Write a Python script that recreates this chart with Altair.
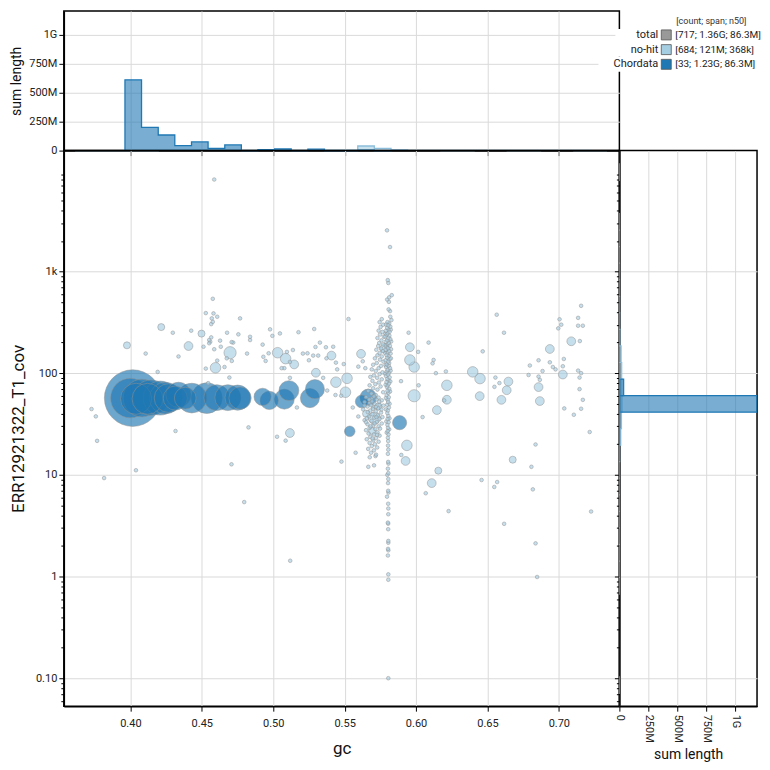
import altair as alt
import pandas as pd

FONT = "Roboto"
NOHIT_COLOR = "#a6cee3"
CHORDATA_COLOR = "#1f78b4"
TOTAL_COLOR = "#999999"

# ---------------------------------------------------------------------------
# Contig records: (gc, coverage, length)
# ---------------------------------------------------------------------------
CHORDATA = [
    (0.4016, 56.9, 460e6), (0.4000, 56.9, 110e6), (0.4040, 56.0, 42e6),
    (0.4081, 56.9, 90e6), (0.4144, 57.5, 70e6), (0.4120, 56.0, 41e6),
    (0.4209, 56.9, 60e6), (0.4244, 56.9, 45e6), (0.4267, 56.9, 30e6),
    (0.4314, 56.9, 15e6), (0.4337, 61.3, 18e6), (0.4384, 56.9, 10e6),
    (0.4430, 56.9, 35e6), (0.4535, 56.9, 40e6), (0.4605, 57.5, 20e6),
    (0.4682, 57.5, 20e6), (0.4751, 57.5, 18e6), (0.4768, 56.9, 11e6),
    (0.4926, 58.5, 4e6), (0.4973, 54.0, 5e6), (0.5078, 55.5, 7e6),
    (0.5110, 67.4, 7e6), (0.5257, 56.9, 6e6), (0.5292, 69.7, 6e6),
    (0.5536, 26.8, 0.56e6), (0.5620, 52.7, 1.2e6), (0.5666, 57.7, 3.5e6),
    (0.5885, 32.6, 1.8e6),
]

NOHIT_LOW = [
    (0.3728, 44.4, 8e3), (0.3758, 37.6, 8e3), (0.3767, 21.6, 8e3), (0.3816, 9.3, 8e3),
    (0.4039, 11.1, 8e3), (0.4316, 27.0, 8e3), (0.4827, 29.3, 8e3), (0.4708, 12.7, 8e3),
    (0.4797, 5.4, 8e3), (0.5027, 23.7, 8e3), (0.5087, 21.7, 8e3), (0.5117, 25.8, 270e3),
    (0.5119, 1.43, 8e3), (0.5166, 46.0, 8e3), (0.5478, 13.5, 8e3), (0.5577, 16.5, 8e3),
    (0.5666, 12.0, 8e3), (0.5706, 12.4, 8e3), (0.5676, 14.9, 8e3), (0.5716, 15.3, 8e3),
    (0.5936, 19.5, 560e3), (0.5927, 13.7, 270e3), (0.5897, 15.7, 8e3), (0.6156, 11.0, 110e3),
    (0.6110, 8.3, 270e3), (0.6068, 6.6, 8e3), (0.6228, 4.4, 8e3), (0.6459, 8.9, 8e3),
    (0.6548, 7.6, 8e3), (0.6568, 8.5, 8e3), (0.6617, 3.3, 8e3), (0.6677, 14.1, 110e3),
    (0.6808, 12.0, 8e3), (0.6818, 7.2, 8e3), (0.6837, 19.9, 8e3), (0.6837, 2.12, 8e3),
    (0.6848, 0.99, 8e3), (0.7216, 26.4, 8e3), (0.7226, 4.36, 8e3), (0.7105, 39.0, 8e3),
    (0.7038, 45.0, 8e3), (0.7156, 44.7, 8e3), (0.6146, 43.4, 270e3), (0.6046, 37.0, 8e3),
    (0.5557, 46.0, 8e3), (0.5596, 37.5, 8e3), (0.5708, 36.2, 1e6),
]

NOHIT_UPPER_LEFT = [
    (0.4587, 8030, 8e3), (0.4577, 539, 8e3), (0.4528, 390, 8e3), (0.4582, 387, 8e3),
    (0.4608, 359, 8e3), (0.4570, 346, 8e3), (0.4577, 320, 8e3), (0.4566, 304, 8e3),
    (0.4768, 346, 8e3), (0.4216, 284, 110e3), (0.4297, 250, 8e3), (0.4426, 262, 8e3),
    (0.4498, 245, 110e3), (0.4566, 225, 8e3), (0.4552, 212, 8e3), (0.4628, 209, 8e3),
    (0.4677, 250, 8e3), (0.4756, 241, 8e3), (0.4838, 228, 8e3), (0.4838, 212, 8e3),
    (0.3976, 188, 110e3), (0.4407, 185, 270e3), (0.4512, 182, 8e3), (0.4552, 197, 8e3),
    (0.4559, 204, 8e3), (0.4587, 172, 8e3), (0.4633, 182, 8e3), (0.4709, 202, 8e3),
    (0.4720, 200, 8e3), (0.4698, 159, 1e6), (0.4107, 156, 8e3), (0.4817, 156, 8e3),
    (0.4926, 191, 8e3), (0.4978, 270, 8e3), (0.4994, 233, 8e3), (0.5047, 246, 8e3),
    (0.5177, 253, 8e3), (0.5287, 272, 8e3), (0.4608, 133, 8e3), (0.4675, 140, 8e3),
    (0.4710, 132, 8e3), (0.4596, 113, 560e3), (0.4528, 111, 8e3), (0.4659, 115, 8e3),
    (0.4693, 90.6, 8e3), (0.4545, 79.8, 8e3), (0.5031, 159, 560e3), (0.4968, 157, 8e3),
    (0.4931, 145, 8e3), (0.4947, 132, 8e3), (0.5087, 139, 560e3), (0.5096, 162, 8e3),
    (0.5138, 169, 8e3), (0.5117, 129, 8e3), (0.5147, 122, 270e3), (0.5059, 112, 8e3),
    (0.5078, 112, 8e3), (0.5117, 90.0, 8e3), (0.5208, 156, 8e3), (0.5240, 157, 8e3),
    (0.5280, 149, 8e3), (0.5296, 181, 8e3), (0.5327, 200, 8e3), (0.5369, 180, 8e3),
    (0.5315, 149, 8e3), (0.5250, 134, 8e3), (0.5373, 140, 8e3), (0.5408, 149, 270e3),
    (0.5420, 182, 8e3), (0.5439, 127, 8e3), (0.5448, 109, 8e3), (0.5299, 101, 270e3),
    (0.5350, 90.0, 8e3), (0.5439, 81.6, 560e3), (0.5378, 67.5, 8e3), (0.5436, 61.0, 8e3),
    (0.5476, 60.0, 8e3), (0.4337, 146, 8e3), (0.4191, 103, 8e3), (0.5527, 341, 8e3),
    (0.5615, 155, 270e3), (0.5627, 131, 8e3), (0.5596, 116, 8e3), (0.5645, 112, 8e3),
    (0.5494, 123, 8e3), (0.5517, 89.0, 560e3), (0.5506, 65.0, 560e3), (0.5778, 176, 270e3),
]

NOHIT_UPPER_RIGHT = [
    (0.5948, 250, 8e3), (0.6088, 200, 8e3), (0.5957, 180, 270e3), (0.6015, 162, 8e3),
    (0.5957, 135, 560e3), (0.5987, 115, 560e3), (0.6123, 135, 8e3), (0.6116, 125, 8e3),
    (0.6139, 100, 8e3), (0.6209, 104, 8e3), (0.6397, 103, 560e3), (0.6448, 88.5, 560e3),
    (0.6216, 76.0, 560e3), (0.6018, 76.0, 8e3), (0.5987, 60.0, 1e6), (0.5895, 83.5, 8e3),
    (0.6197, 54.0, 8e3), (0.6216, 54.8, 270e3), (0.6446, 59.5, 270e3), (0.6467, 164, 8e3),
    (0.6565, 376, 8e3), (0.6616, 250, 8e3), (0.6556, 90.6, 8e3), (0.6549, 73.4, 8e3),
    (0.6584, 80.0, 8e3), (0.6647, 82.7, 270e3), (0.6635, 68.0, 270e3), (0.6598, 54.7, 270e3),
    (0.6788, 96.0, 8e3), (0.6797, 119, 8e3), (0.6858, 134, 8e3), (0.6886, 105, 8e3),
    (0.6858, 92.6, 8e3), (0.6867, 86.0, 8e3), (0.6858, 73.0, 270e3), (0.6867, 53.2, 270e3),
    (0.6937, 173, 270e3), (0.6937, 128, 8e3), (0.6958, 115, 8e3), (0.6977, 109, 8e3),
    (0.7028, 117, 8e3), (0.7035, 138, 8e3), (0.7028, 97.0, 270e3), (0.7005, 339, 8e3),
    (0.7017, 300, 8e3), (0.6996, 276, 8e3), (0.7087, 206, 270e3), (0.7156, 460, 8e3),
    (0.7135, 350, 8e3), (0.7135, 293, 8e3), (0.7168, 293, 8e3), (0.7147, 207, 8e3),
    (0.7135, 106, 8e3), (0.7156, 100, 8e3), (0.7145, 90.6, 8e3), (0.7145, 69.7, 8e3),
    (0.7168, 54.7, 8e3),
]

# the narrow high-coverage column near gc 0.58
NOHIT_COLUMN = [
    (0.5797, 2540, 8e3), (0.5818, 1740, 8e3), (0.5802, 823, 8e3), (0.5806, 772, 8e3),
    (0.5830, 585, 8e3), (0.5812, 557, 8e3), (0.5798, 530, 8e3), (0.5810, 503, 8e3),
    (0.5808, 424, 8e3), (0.5818, 408, 8e3), (0.5820, 359, 8e3), (0.5828, 333, 8e3),
    (0.5800, 318, 8e3), (0.5812, 309, 8e3), (0.5792, 301, 12e3), (0.5806, 296, 8e3),
    (0.5820, 287, 8e3), (0.5798, 279, 8e3), (0.5808, 268, 12e3), (0.5790, 262, 8e3),
    (0.5815, 255, 8e3), (0.5802, 247, 8e3), (0.5795, 240, 8e3), (0.5812, 234, 12e3),
    (0.5785, 229, 8e3), (0.5806, 222, 8e3), (0.5820, 216, 8e3), (0.5798, 211, 8e3),
    (0.5790, 204, 12e3), (0.5810, 198, 8e3), (0.5803, 193, 8e3), (0.5817, 186, 8e3),
    (0.5795, 181, 12e3), (0.5805, 176, 8e3), (0.5788, 170, 8e3), (0.5812, 165, 8e3),
    (0.5800, 160, 12e3), (0.5822, 156, 8e3), (0.5793, 151, 8e3), (0.5808, 147, 8e3),
    (0.5798, 142, 8e3), (0.5815, 138, 12e3), (0.5787, 134, 8e3), (0.5804, 130, 8e3),
    (0.5812, 126, 8e3), (0.5796, 122, 8e3), (0.5808, 118, 12e3), (0.5790, 115, 8e3),
    (0.5818, 112, 8e3), (0.5801, 108, 8e3), (0.5795, 104, 8e3), (0.5810, 101, 12e3),
    (0.5803, 97, 8e3), (0.5789, 94, 8e3), (0.5815, 91, 8e3), (0.5799, 88, 8e3),
    (0.5807, 85, 12e3), (0.5793, 82, 8e3), (0.5811, 79, 8e3), (0.5802, 76, 8e3),
    (0.5797, 73, 8e3), (0.5812, 70, 12e3), (0.5800, 67, 8e3), (0.5806, 64, 8e3),
    (0.5794, 61, 8e3), (0.5809, 58, 8e3), (0.5801, 55, 12e3), (0.5805, 52, 8e3),
    (0.5798, 49, 8e3), (0.5810, 46, 8e3), (0.5803, 43, 8e3), (0.5799, 40.5, 8e3),
    (0.5806, 38, 8e3), (0.5801, 35.5, 8e3), (0.5808, 33, 8e3), (0.5800, 31, 8e3),
    (0.5804, 29, 8e3), (0.5802, 27, 8e3), (0.5807, 25, 8e3), (0.5803, 23.2, 8e3),
    (0.5805, 21.5, 8e3), (0.5804, 19.4, 8e3), (0.5806, 17.7, 8e3), (0.5803, 16.1, 8e3),
    (0.5805, 13.4, 8e3), (0.5807, 12.9, 8e3), (0.5803, 11.5, 8e3), (0.5806, 10.4, 8e3),
    (0.5799, 10.0, 8e3), (0.5806, 9.1, 8e3), (0.5804, 8.3, 8e3), (0.5805, 6.97, 8e3),
    (0.5807, 6.7, 8e3), (0.5797, 6.1, 8e3), (0.5805, 5.2, 8e3), (0.5806, 4.67, 8e3),
    (0.5806, 4.1, 8e3), (0.5803, 3.39, 8e3), (0.5805, 3.31, 8e3), (0.5805, 2.92, 8e3),
    (0.5806, 2.24, 8e3), (0.5806, 2.15, 8e3), (0.5804, 1.87, 8e3), (0.5806, 1.81, 8e3),
    (0.5803, 1.61, 8e3), (0.5806, 1.05, 8e3), (0.5806, 0.93, 8e3), (0.5806, 0.10, 8e3),
    (0.5823, 268, 8e3), (0.5786, 245, 8e3), (0.5826, 205, 8e3), (0.5784, 188, 8e3),
    (0.5825, 172, 8e3), (0.5783, 158, 8e3), (0.5824, 140, 8e3), (0.5786, 120, 8e3),
    (0.5822, 106, 8e3), (0.5784, 99, 8e3), (0.5820, 83, 8e3), (0.5787, 77, 8e3),
    (0.5818, 66, 8e3), (0.5789, 57, 8e3), (0.5815, 50, 8e3), (0.5790, 44, 8e3),
    (0.5814, 36, 8e3), (0.5792, 33.5, 8e3), (0.5812, 28, 8e3), (0.5795, 26, 8e3),
]

# the dense mid-coverage cloud just left of the column
NOHIT_CLUSTER = [
    (0.5760, 340, 8e3), (0.5745, 318, 8e3), (0.5770, 300, 8e3), (0.5752, 285, 8e3),
    (0.5738, 262, 8e3), (0.5765, 255, 8e3), (0.5748, 240, 8e3), (0.5775, 228, 8e3),
    (0.5730, 222, 8e3), (0.5758, 210, 8e3), (0.5742, 198, 8e3), (0.5770, 192, 8e3),
    (0.5735, 185, 8e3), (0.5755, 175, 8e3), (0.5722, 170, 8e3), (0.5768, 165, 8e3),
    (0.5745, 158, 8e3), (0.5730, 150, 8e3), (0.5760, 146, 8e3), (0.5712, 140, 8e3),
    (0.5748, 136, 8e3), (0.5772, 130, 8e3), (0.5725, 126, 8e3), (0.5700, 121, 8e3),
    (0.5755, 118, 8e3), (0.5738, 112, 8e3), (0.5690, 109, 8e3), (0.5718, 105, 8e3),
    (0.5765, 102, 8e3), (0.5745, 98, 8e3), (0.5705, 95, 8e3), (0.5680, 92, 8e3),
    (0.5728, 90, 8e3), (0.5760, 87, 8e3), (0.5695, 84, 8e3), (0.5740, 81, 8e3),
    (0.5715, 78, 8e3), (0.5675, 76, 8e3), (0.5752, 74, 8e3), (0.5700, 71, 8e3),
    (0.5730, 69, 8e3), (0.5665, 67, 8e3), (0.5770, 65, 8e3), (0.5688, 63, 8e3),
    (0.5718, 61, 8e3), (0.5650, 58, 8e3), (0.5690, 56, 8e3), (0.5725, 55, 8e3),
    (0.5760, 54, 8e3), (0.5640, 52, 8e3), (0.5675, 51, 8e3), (0.5710, 50, 8e3),
    (0.5745, 49, 8e3), (0.5772, 48, 8e3), (0.5660, 47, 8e3), (0.5700, 46, 8e3),
    (0.5735, 45, 8e3), (0.5630, 44, 8e3), (0.5680, 43, 8e3), (0.5718, 42, 8e3),
    (0.5755, 41, 8e3), (0.5650, 40, 110e3), (0.5695, 39.5, 8e3), (0.5732, 38.5, 8e3),
    (0.5670, 37.5, 8e3), (0.5708, 36.5, 8e3), (0.5745, 35.5, 8e3), (0.5640, 34.5, 8e3),
    (0.5688, 34, 8e3), (0.5725, 33, 8e3), (0.5760, 32, 8e3), (0.5660, 31.5, 8e3),
    (0.5700, 30.5, 8e3), (0.5738, 30, 8e3), (0.5675, 29, 8e3), (0.5715, 28.2, 8e3),
    (0.5650, 27.5, 8e3), (0.5692, 27, 110e3), (0.5730, 26.2, 8e3), (0.5668, 25.5, 8e3),
    (0.5705, 25, 8e3), (0.5745, 24.3, 8e3), (0.5680, 23.6, 8e3), (0.5720, 23, 8e3),
    (0.5655, 22.4, 8e3), (0.5700, 21.8, 8e3), (0.5738, 21.2, 8e3), (0.5675, 20.6, 8e3),
    (0.5712, 20, 8e3), (0.5690, 19.2, 8e3), (0.5728, 18.6, 8e3), (0.5665, 18, 8e3),
    (0.5705, 17.4, 8e3), (0.5685, 16.5, 8e3), (0.5720, 15.8, 8e3), (0.5735, 47, 110e3),
    (0.5662, 41.5, 8e3), (0.5698, 44.5, 8e3), (0.5742, 52.5, 8e3), (0.5685, 48.5, 8e3),
    (0.5722, 37, 8e3), (0.5655, 36, 8e3), (0.5710, 32, 8e3), (0.5748, 28.5, 8e3),
    (0.5682, 30, 8e3), (0.5728, 24.8, 8e3), (0.5695, 22.8, 8e3), (0.5650, 33, 8e3),
    (0.5765, 37, 8e3), (0.5738, 57.5, 8e3), (0.5705, 59, 8e3), (0.5672, 55, 8e3),
    (0.5758, 44, 8e3), (0.5640, 48, 8e3), (0.5692, 52.8, 8e3), (0.5718, 46.5, 8e3),
]

NOHIT_GROUPS = [NOHIT_LOW, NOHIT_UPPER_LEFT, NOHIT_UPPER_RIGHT, NOHIT_COLUMN, NOHIT_CLUSTER]

# ---------------------------------------------------------------------------
# Binned span sums for the marginal histograms
# ---------------------------------------------------------------------------
GC_BIN_EDGES = [
    0.3613, 0.3729, 0.3846, 0.3962, 0.4078, 0.4195, 0.4311, 0.4428, 0.4544, 0.4661,
    0.4777, 0.4893, 0.5010, 0.5126, 0.5243, 0.5359, 0.5476, 0.5592, 0.5708, 0.5825,
    0.5941, 0.6057, 0.6174, 0.6290, 0.6407, 0.6523, 0.6639, 0.6756, 0.6872, 0.6989,
    0.7105, 0.7222, 0.7338,
]
GC_SUM_CHORDATA = [
    0, 0, 0, 612e6, 201e6, 135e6, 43e6, 75e6, 20e6, 49e6,
    0, 9e6, 14e6, 0, 12e6, 0, 0.56e6, 4.7e6, 0, 1.8e6,
    0, 0, 0, 0, 0, 0, 0, 0, 0, 0, 0, 0,
]
GC_SUM_NOHIT = [
    0.1e6, 0.2e6, 0.3e6, 0.5e6, 0.8e6, 1.5e6, 2.0e6, 3.5e6, 3.0e6, 2.5e6,
    2.0e6, 2.5e6, 3.0e6, 2.5e6, 3.0e6, 3.0e6, 3.5e6, 40e6, 20e6, 3.0e6,
    2.5e6, 1.5e6, 1.0e6, 1.0e6, 1.5e6, 1.5e6, 1.0e6, 1.0e6, 1.5e6, 1.5e6, 1.0e6, 0.3e6,
]

COV_BIN_EDGES = [
    0.071, 0.103, 0.150, 0.218, 0.318, 0.462, 0.672, 0.978, 1.42, 2.07,
    3.01, 4.38, 6.37, 9.27, 13.5, 19.6, 28.5, 41.4, 60.2, 87.6,
    127.4, 185.3, 269.6, 392, 570, 830, 1207, 1756, 2554, 3716,
    5405, 7863, 11440,
]
COV_SUM_CHORDATA = [
    0, 0, 0, 0, 0, 0, 0, 0, 0, 0,
    0, 0, 0, 0, 0, 0.56e6, 1.8e6, 1190e6, 37e6, 0,
    0, 0, 0, 0, 0, 0, 0, 0, 0, 0, 0, 0,
]
COV_SUM_NOHIT = [
    0.01e6, 0, 0, 0, 0, 0, 0.02e6, 0.05e6, 0.1e6, 0.1e6,
    0.1e6, 0.2e6, 0.3e6, 0.5e6, 2e6, 12e6, 18e6, 22e6, 22e6, 20e6,
    15e6, 4e6, 2e6, 1e6, 0.5e6, 0.3e6, 0.1e6, 0.1e6, 0.05e6, 0, 0, 0.01e6,
]

# axis ticks
GC_TICKS = [0.40, 0.45, 0.50, 0.55, 0.60, 0.65, 0.70]
COV_TICKS = [
    0.06, 0.07, 0.08, 0.09, 0.1, 0.2, 0.3, 0.4, 0.5, 0.6, 0.7, 0.8, 0.9,
    1, 2, 3, 4, 5, 6, 7, 8, 9, 10, 20, 30, 40, 50, 60, 70, 80, 90,
    100, 200, 300, 400, 500, 600, 700, 800, 900,
    1000, 2000, 3000, 4000, 5000, 6000, 7000, 8000, 9000,
]
SPAN_TICKS = [0, 250e6, 500e6, 750e6, 1e9]

# legend content
LEGEND_NAMES = ["total", "no-hit", "Chordata"]
LEGEND_COLORS = [TOTAL_COLOR, NOHIT_COLOR, CHORDATA_COLOR]
LEGEND_STATS = ["[717; 1.36G; 86.3M]", "[684; 121M; 368k]", "[33; 1.23G; 86.3M]"]

# ---------------------------------------------------------------------------
# Scales and axis helpers
# ---------------------------------------------------------------------------
GC_DOMAIN = [0.3534, 0.7424]
COV_DOMAIN = [0.0531, 15460]
MAIN_W, MAIN_H = 557, 557
TOP_H, SIDE_W = 140, 138

MAJOR = "indexof([0.1, 1, 10, 100, 1000], datum.value) >= 0"
COV_LABEL = ("datum.value == 1000 ? '1k' : datum.value == 0.1 ? '0.10' : "
             "indexof([1, 10, 100], datum.value) >= 0 ? format(datum.value, 'd') : ''")
SPAN_LABEL = ("datum.value == 0 ? '0' : datum.value >= 1e9 ? format(datum.value / 1e9, 'd') + 'G' "
              ": format(datum.value / 1e6, 'd') + 'M'")
MAJOR_TICK = {"condition": {"test": MAJOR, "value": 5}, "value": 3}
MAJOR_GRID = {"condition": {"test": MAJOR, "value": 1}, "value": 0}


def gc_scale():
    return alt.Scale(domain=GC_DOMAIN, nice=False, zero=False)


def cov_scale():
    return alt.Scale(type="log", domain=COV_DOMAIN, nice=False)


# ---------------------------------------------------------------------------
# Blob scatter
# ---------------------------------------------------------------------------
frames = [pd.DataFrame(g, columns=["gc", "cov", "length"]).assign(taxon="no-hit") for g in NOHIT_GROUPS]
frames.append(pd.DataFrame(CHORDATA, columns=["gc", "cov", "length"]).assign(taxon="Chordata"))
blobs = pd.concat(frames, ignore_index=True).sort_values("length", ascending=False)

main = alt.Chart(blobs).mark_circle(
    stroke="#939393", strokeWidth=0.6, fillOpacity=0.65, strokeOpacity=0.85, clip=True
).encode(
    x=alt.X("gc:Q", scale=gc_scale(),
            axis=alt.Axis(values=GC_TICKS, format=".2f", title="gc", titleFontSize=17,
                          tickSize=5, labelPadding=6, titlePadding=12)),
    y=alt.Y("cov:Q", scale=cov_scale(),
            axis=alt.Axis(values=COV_TICKS, labelExpr=COV_LABEL, tickSize=MAJOR_TICK,
                          gridOpacity=MAJOR_GRID, title="ERR12921322_T1_cov",
                          titleFontSize=17, labelPadding=2, titlePadding=8)),
    size=alt.Size("length:Q", scale=alt.Scale(type="pow", exponent=0.5, domain=[0, 460e6],
                                              range=[0, 3217]), legend=None),
    color=alt.Color("taxon:N", scale=alt.Scale(domain=["no-hit", "Chordata"],
                                               range=[NOHIT_COLOR, CHORDATA_COLOR]), legend=None),
).properties(width=MAIN_W, height=MAIN_H)


# ---------------------------------------------------------------------------
# GC histogram (top)
# ---------------------------------------------------------------------------
def gc_profile(sums, taxon):
    nz = [i for i, v in enumerate(sums) if v > 0]
    lo, hi = nz[0], nz[-1]
    rows = [(GC_BIN_EDGES[lo], 0.0)]
    rows += [(GC_BIN_EDGES[i], sums[i]) for i in range(lo, hi + 1)]
    rows += [(GC_BIN_EDGES[hi + 1], 0.0)]
    df = pd.DataFrame(rows, columns=["gc", "span"])
    df["step"] = range(len(df))
    df["taxon"] = taxon
    return df


top_x = alt.X("gc:Q", scale=gc_scale(),
              axis=alt.Axis(values=GC_TICKS, labels=False, title="", tickSize=5))
top_y = alt.Y("span:Q", scale=alt.Scale(domain=[0, 1.207e9], nice=False), stack=None,
              axis=alt.Axis(values=SPAN_TICKS, labelExpr=SPAN_LABEL, title="sum length",
                            titleFontSize=14, tickSize=5, labelPadding=2, titlePadding=5))

top_layers = []
for sums, taxon, fill, line in [(GC_SUM_NOHIT, "no-hit", NOHIT_COLOR, "#8dbfdc"),
                                (GC_SUM_CHORDATA, "Chordata", CHORDATA_COLOR, CHORDATA_COLOR)]:
    prof = gc_profile(sums, taxon)
    top_layers.append(alt.Chart(prof.iloc[1:]).mark_area(
        interpolate="step-after", color=fill, opacity=0.6).encode(x=top_x, y=top_y))
    top_layers.append(alt.Chart(prof).mark_line(
        interpolate="step-after", color=line, strokeWidth=1.3).encode(
        x=top_x, y=top_y, order=alt.Order("step:Q")))
top = alt.layer(*top_layers).properties(width=MAIN_W, height=TOP_H)


# ---------------------------------------------------------------------------
# Coverage histogram (right)
# ---------------------------------------------------------------------------
def cov_bins(sums, taxon):
    rows = [(COV_BIN_EDGES[i], COV_BIN_EDGES[i + 1], v) for i, v in enumerate(sums) if v > 0]
    return pd.DataFrame(rows, columns=["lo", "hi", "span"]).assign(taxon=taxon)


side_y = alt.Y("lo:Q", scale=cov_scale(),
               axis=alt.Axis(values=COV_TICKS, labels=False, title="", tickSize=MAJOR_TICK,
                             gridOpacity=MAJOR_GRID))
side_x = alt.X("span:Q", scale=alt.Scale(domain=[0, 1.19e9], nice=False),
               axis=alt.Axis(values=SPAN_TICKS, labelExpr=SPAN_LABEL, labelAngle=90,
                             labelAlign="left", labelBaseline="middle", title="sum length",
                             titleFontSize=14, tickSize=5, labelPadding=3, titlePadding=5))

side_layers = []
for sums, taxon, fill, line in [(COV_SUM_NOHIT, "no-hit", NOHIT_COLOR, "#8dbfdc"),
                                (COV_SUM_CHORDATA, "Chordata", CHORDATA_COLOR, CHORDATA_COLOR)]:
    side_layers.append(alt.Chart(cov_bins(sums, taxon)).mark_rect(
        color=fill, fillOpacity=0.6, stroke=line, strokeWidth=1.2, clip=True).encode(
        y=side_y, y2="hi:Q", x=side_x, x2=alt.datum(0)))
side = alt.layer(*side_layers).properties(width=SIDE_W, height=MAIN_H)

# ---------------------------------------------------------------------------
# Legend block
# ---------------------------------------------------------------------------
legend_df = pd.DataFrame({"name": LEGEND_NAMES, "color": LEGEND_COLORS, "stats": LEGEND_STATS})
one = pd.DataFrame({"k": [0]})
row_y = alt.Y("name:N", axis=None,
              scale=alt.Scale(type="point", domain=LEGEND_NAMES, range=[24, 53.5], padding=0))

backdrops = [
    alt.Chart(one).mark_rect(color="white").encode(
        x=alt.value(-4), x2=alt.value(151), y=alt.value(18), y2=alt.value(32)),
    alt.Chart(one).mark_rect(color="white").encode(
        x=alt.value(-13), x2=alt.value(151), y=alt.value(32), y2=alt.value(46)),
    alt.Chart(one).mark_rect(color="white").encode(
        x=alt.value(-21), x2=alt.value(151), y=alt.value(46), y2=alt.value(61)),
]
header = alt.Chart(one).mark_text(
    text="[count; span; n50]", align="left", baseline="middle", fontSize=9, font=FONT,
    color="#333").encode(x=alt.value(57), y=alt.value(10))
names = alt.Chart(legend_df).mark_text(
    align="right", baseline="middle", fontSize=11, font=FONT, color="#222").encode(
    x=alt.value(39), y=row_y, text="name:N")
swatches = alt.Chart(legend_df).mark_square(
    size=100, stroke="#555555", strokeWidth=0.8, opacity=1).encode(
    x=alt.value(47), y=row_y,
    color=alt.Color("name:N", scale=alt.Scale(domain=LEGEND_NAMES, range=LEGEND_COLORS),
                    legend=None))
stats = alt.Chart(legend_df).mark_text(
    align="left", baseline="middle", fontSize=10, font=FONT, color="#222").encode(
    x=alt.value(56), y=row_y, text="stats:N")

legend = alt.layer(*backdrops, header, names, swatches, stats).properties(
    width=SIDE_W, height=TOP_H, view=alt.ViewBackground(strokeOpacity=0))

# ---------------------------------------------------------------------------
# Assemble
# ---------------------------------------------------------------------------
chart = alt.concat(top, legend, main, side, columns=2).properties(
    spacing=0, bounds="flush", align="each",
    padding={"left": 8, "top": 9, "right": 0, "bottom": 5},
).configure_axis(
    labelFont=FONT, titleFont=FONT, labelFontSize=11, labelColor="#222",
    titleColor="#111", titleFontWeight="normal", gridColor="#dadada", gridWidth=1,
    domainColor="black", domainWidth=1.5, tickColor="black", tickWidth=1,
).configure_view(stroke="black", strokeWidth=1.5)

chart.save("out.html", embed_options={"renderer": "svg", "actions": False})
